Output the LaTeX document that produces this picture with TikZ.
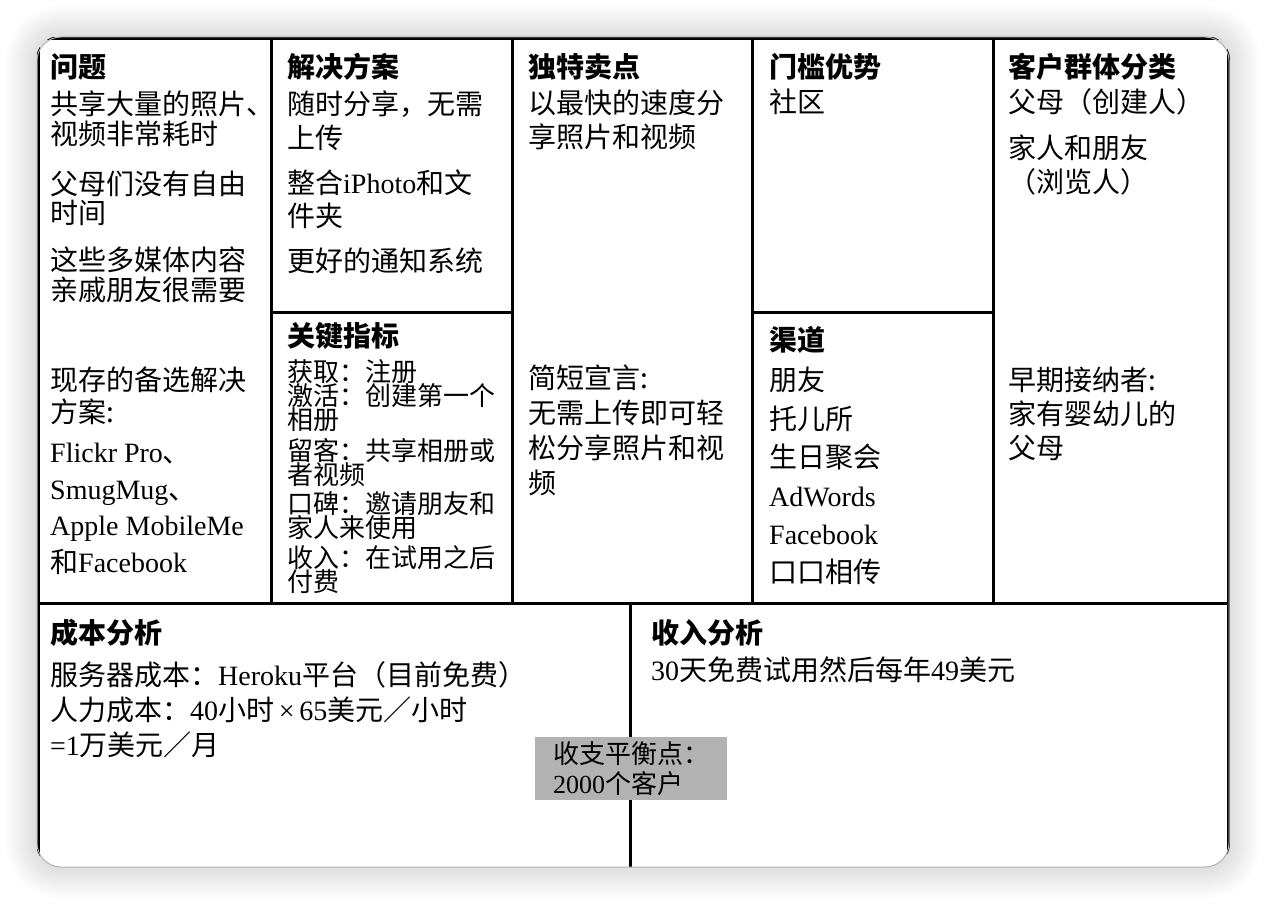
\documentclass[tikz,border=0pt]{standalone}
\usepackage{fontspec}
\setmainfont{Noto Sans CJK SC}
\newfontfamily\latinfont{Liberation Serif}
\newcommand\enf[1]{{\latinfont #1}}
\newcommand\fstrut{\rule{0pt}{0.95em}}
\lineskiplimit=-100pt
\begin{document}
\begin{tikzpicture}[x=1pt,y=-1pt,every node/.style={inner sep=0pt,anchor=north west,align=left,font=\fontsize{28}{30}\selectfont},
head/.style={font=\bfseries\fontsize{28}{30}\selectfont},
lsk/.style={font=\fontsize{28}{#1}\selectfont},
kpi/.style={font=\fontsize{26}{24}\selectfont},
brk/.style={anchor=center,fill=black!30,minimum width=192pt,minimum height=63pt,font=\fontsize{26}{30}\selectfont},
gridline/.style={line width=3pt,line cap=rect}]
\useasboundingbox (0,0) rectangle (1266,904);
\fill[white] (0,0) rectangle (1266,904);
\foreach \s [evaluate=\s as \r using 24+2*\s] in {1,...,16}
  \fill[black,opacity=0.009,rounded corners=\r pt] (37-2*\s,37-2*\s) rectangle (1229+2*\s,867+2*\s);
\fill[white,rounded corners=24pt] (37,37) rectangle (1229,867);
\begin{scope}
\clip[rounded corners=24pt] (36,36) rectangle (1230,867);
\draw[gridline] (38,39) rectangle (1228,900);
\draw[gridline] (271,39)--(271,603);\draw[gridline] (512,39)--(512,603);
\draw[gridline] (752,39)--(752,603);\draw[gridline] (993,39)--(993,603);
\draw[gridline] (271,312)--(512,312);\draw[gridline] (752,312)--(993,312);
\draw[gridline] (38,603)--(1228,603);\draw[gridline] (630,603)--(630,900);
\end{scope}
\draw[gray!60,line width=1pt,rounded corners=24pt] (37,37) rectangle (1229,867);
\node[head] (wenti) at (50,51) {\fstrut 问题};
\node (wenti-a) at (50,88) {\fstrut 共享大量的照片、\\视频非常耗时};
\node[lsk=29] (wenti-b) at (50,168) {\fstrut 父母们没有自由\\时间};
\node (wenti-c) at (50,244) {\fstrut 这些多媒体内容\\亲戚朋友很需要};
\node[lsk=32] (wenti-d) at (50,364) {\fstrut 现存的备选解决\\方案:};
\node[lsk=36.5] (wenti-e) at (50,436) {\fstrut\enf{Flickr Pro}、\\\enf{SmugMug}、\\\enf{Apple MobileMe}\\和\enf{Facebook}};
\node[head] (jiejue) at (287,51) {\fstrut 解决方案};
\node[lsk=34] (jiejue-a) at (287,88) {\fstrut 随时分享，无需\\上传};
\node[lsk=33] (jiejue-b) at (287,167) {\fstrut 整合\enf{iPhoto}和文\\件夹};
\node (jiejue-c) at (287,245) {\fstrut 更好的通知系统};
\node[head] (zhibiao) at (287,320) {\fstrut 关键指标};
\node[kpi] (zhibiao-a) at (287,357) {\fstrut 获取：注册\\激活：创建第一个\\相册\\[7pt]留客：共享相册或\\者视频\\[5pt]口碑：邀请朋友和\\家人来使用\\[6pt]收入：在试用之后\\付费};
\node[head] (maidian) at (528,51) {\fstrut 独特卖点};
\node[lsk=34] (maidian-a) at (528,87) {\fstrut 以最快的速度分\\享照片和视频};
\node[lsk=35] (xuanyan) at (528,362) {\fstrut 简短宣言:\\无需上传即可轻\\松分享照片和视\\频};
\node[head] (menkan) at (769,51) {\fstrut 门槛优势};
\node (menkan-a) at (769,86) {\fstrut 社区};
\node[head] (qudao) at (769,324) {\fstrut 渠道};
\node[lsk=38.4] (qudao-a) at (769,364) {\fstrut 朋友\\托儿所\\生日聚会\\\enf{AdWords}\\\enf{Facebook}\\口口相传};
\node[head] (kehu) at (1008,51) {\fstrut 客户群体分类};
\node (kehu-a) at (1008,86) {\fstrut 父母（创建人）};
\node[lsk=34] (kehu-b) at (1008,132) {\fstrut 家人和朋友\\（浏览人）};
\node[lsk=34] (zaoqi) at (1008,364) {\fstrut 早期接纳者:\\家有婴幼儿的\\父母};
\node[head] (chengben) at (50,617) {\fstrut 成本分析};
\node[lsk=35] (chengben-a) at (50,659) {\fstrut 服务器成本：\enf{Heroku}平台（目前免费）\\人力成本：\enf{40}小时\enf{\,×\,}\enf{65}美元／小时\\\enf{=1}万美元／月};
\node[head] (shouru) at (651,617) {\fstrut 收入分析};
\node (shouru-a) at (651,654) {\fstrut\enf{30}天免费试用然后每年\enf{49}美元};
\node[brk] (pingheng) at (631,768.5) {收支平衡点：\\\enf{2000}个客户};
\end{tikzpicture}
\end{document}
